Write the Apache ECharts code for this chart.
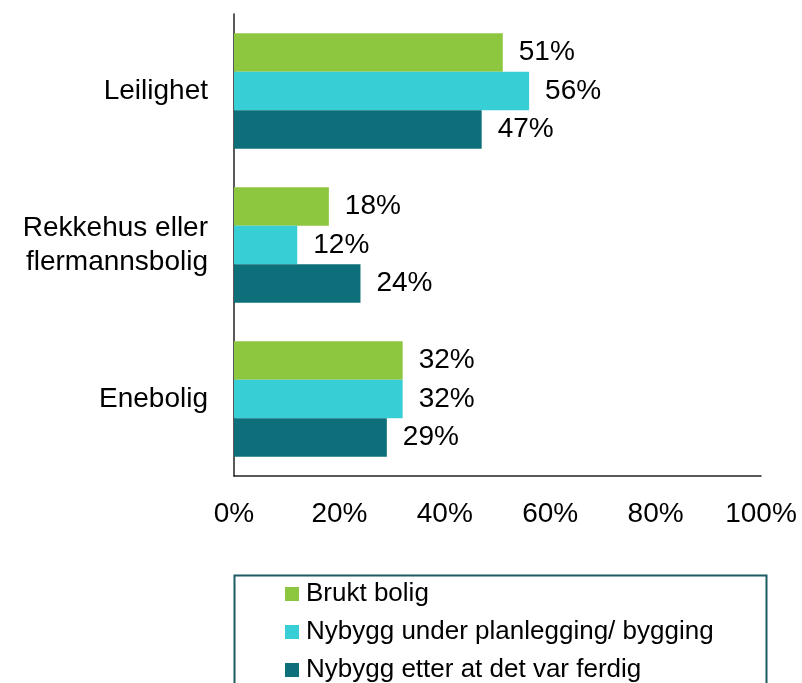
<!DOCTYPE html>
<html>
<head>
<meta charset="utf-8">
<script src="https://cdn.jsdelivr.net/npm/echarts@6/dist/echarts.min.js"></script>
<style>
html,body{margin:0;padding:0;background:#fff;}
#chart{width:802px;height:683px;}
</style>
</head>
<body>
<div id="chart"></div>
<script>
const categories = ['Leilighet', 'Rekkehus eller\nflermannsbolig', 'Enebolig'];
const seriesNames = ['Brukt bolig', 'Nybygg under planlegging/ bygging', 'Nybygg etter at det var ferdig'];
const bruktBolig = [51, 18, 32];
const nybyggUnder = [56, 12, 32];
const nybyggEtter = [47, 24, 29];
const xTicks = [0, 20, 40, 60, 80, 100];
const colors = ['#8DC63F', '#38CED6', '#0D6F79'];

const font = '"Liberation Sans", Arial, sans-serif';
const chart = echarts.init(document.getElementById('chart'), null, {renderer: 'canvas'});

function mk(name, data, color) {
  return {
    name: name,
    type: 'bar',
    data: data,
    barGap: '0%',
    barCategoryGap: '25%',
    itemStyle: {color: color},
    label: {
      show: true,
      position: 'right',
      distance: 16,
      formatter: p => p.value + '%',
      color: '#000',
      fontSize: 28,
      fontFamily: font
    },
    emphasis: {disabled: true}
  };
}

chart.setOption({
  animation: false,
  grid: {left: 234, right: 41, top: 14, bottom: 207, containLabel: false},
  xAxis: {
    type: 'value',
    min: xTicks[0],
    max: xTicks[xTicks.length - 1],
    interval: 20,
    axisLine: {show: true, lineStyle: {color: '#222', width: 1.5}},
    axisTick: {show: false},
    splitLine: {show: false},
    axisLabel: {
      margin: 24,
      color: '#000',
      fontSize: 28,
      fontFamily: font,
      formatter: v => v + '%'
    }
  },
  yAxis: {
    type: 'category',
    data: categories,
    inverse: true,
    axisLine: {show: true, lineStyle: {color: '#222', width: 1.5}},
    axisTick: {show: false},
    axisLabel: {
      margin: 26,
      color: '#000',
      fontSize: 28,
      lineHeight: 34,
      fontFamily: font,
      align: 'right'
    }
  },
  legend: {
    orient: 'vertical',
    left: 285,
    top: 581,
    height: 150,
    padding: 0,
    itemWidth: 14,
    itemHeight: 14,
    itemGap: 12,
    icon: 'rect',
    data: seriesNames,
    selectedMode: false,
    textStyle: {
      color: '#000',
      fontSize: 26,
      lineHeight: 26,
      fontFamily: font,
      padding: [0, 0, 0, 2]
    }
  },
  graphic: [{
    type: 'rect',
    left: 232,
    top: 573,
    shape: {width: 532, height: 130},
    style: {fill: 'none', stroke: '#1d5b63', lineWidth: 2},
    silent: true
  }],
  series: [
    mk(seriesNames[0], bruktBolig, colors[0]),
    mk(seriesNames[1], nybyggUnder, colors[1]),
    mk(seriesNames[2], nybyggEtter, colors[2])
  ]
});
</script>
</body>
</html>
